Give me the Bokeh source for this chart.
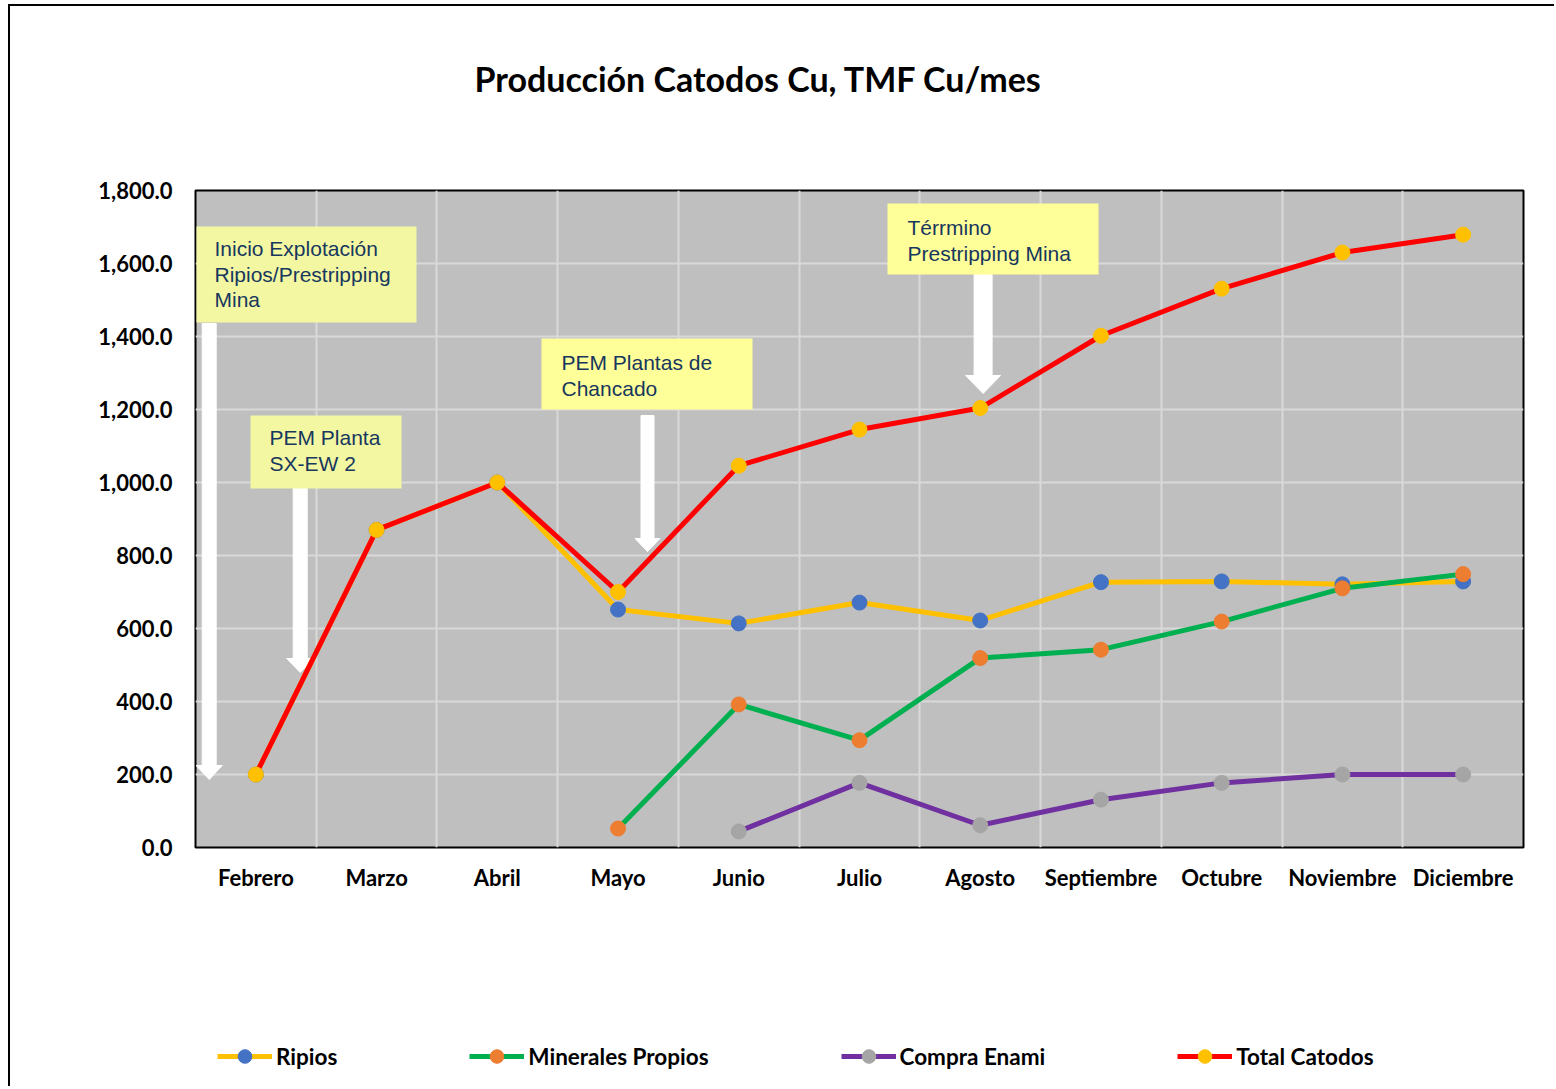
from bokeh.plotting import figure
from bokeh.layouts import column
from bokeh.models import (Range1d, FixedTicker, NumeralTickFormatter, BoxAnnotation,
                          Label, Legend, LegendItem, ColumnDataSource, Title)
from bokeh.embed import file_html
from bokeh.resources import INLINE

# ---------------- data ----------------
months = ["Febrero", "Marzo", "Abril", "Mayo", "Junio", "Julio", "Agosto",
          "Septiembre", "Octubre", "Noviembre", "Diciembre"]
ripios = [200, 870, 1000, 652, 614, 671, 622, 727, 729, 721, 729]
minerales = [None, None, None, 52, 392, 294, 519, 542, 619, 710, 749]
compra = [None, None, None, None, 44, 177, 61, 131, 177, 200, 200]
total = [200, 870, 1000, 700, 1046, 1145, 1204, 1402, 1531, 1630, 1679]
y_ticks = [0, 200, 400, 600, 800, 1000, 1200, 1400, 1600, 1800]
title_text = "Producción Catodos Cu, TMF Cu/mes"
series_names = ["Ripios", "Minerales Propios", "Compra Enami", "Total Catodos"]

notes = [
    ["Inicio Explotación", "Ripios/Prestripping", "Mina"],
    ["PEM Planta", "SX-EW 2"],
    ["PEM Plantas de", "Chancado"],
    ["Térrmino", "Prestripping Mina"],
]

# ---------------- layout helpers (page pixels -> data) ----------------
FL, FR, FT, FB = 195, 1523, 190, 847
XU = (FR - FL) / 11.0
YU = (FB - FT) / 1800.0
OX, OY = 10, 6  # canvas origin on the page (after margin + border)


def px(x):
    return (x - FL) / XU - 0.5


def py(y):
    return (FB - y) / YU


W, H1, H2 = 1544, 1030, 50
p = figure(width=W, height=H1, output_backend="svg", toolbar_location=None,
           title=None,
           x_range=Range1d(-0.5, 10.5), y_range=Range1d(0, 1800),
           min_border_left=FL - OX, min_border_right=OX + W - FR,
           min_border_top=FT - OY, min_border_bottom=OY + H1 - FB)
p.border_fill_color = "white"
p.background_fill_color = "#BFBFBF"
p.outline_line_color = "black"
p.outline_line_width = 2

# grid
p.xgrid.ticker = FixedTicker(ticks=[i + 0.5 for i in range(10)])
p.ygrid.ticker = FixedTicker(ticks=y_ticks)
for g in (p.xgrid, p.ygrid):
    g.grid_line_color = "#D9D9D9"
    g.grid_line_width = 2

# axes
p.xaxis.ticker = FixedTicker(ticks=list(range(len(months))))
p.xaxis.major_label_overrides = {i: m for i, m in enumerate(months)}
p.yaxis.ticker = FixedTicker(ticks=y_ticks)
p.yaxis.formatter = NumeralTickFormatter(format="0,0.0")
for ax in (p.xaxis, p.yaxis):
    ax.axis_line_color = None
    ax.major_tick_line_color = None
    ax.minor_tick_line_color = None
    ax.major_tick_out = 0
    ax.major_tick_in = 0
    ax.minor_tick_out = 0
    ax.minor_tick_in = 0
    ax.major_label_text_font = "Lato"
    ax.major_label_text_font_style = "bold"
    ax.major_label_text_font_size = "22px"
    ax.major_label_text_color = "black"
p.xaxis.major_label_standoff = 16
p.yaxis.major_label_standoff = 23

# ---------------- arrows (white) ----------------
arrow_specs = [  # center x, shaft half width, head half width, top, head start, tip
    (208.7, 7, 13, 323, 765, 779),
    (299.7, 7, 13.5, 488, 658, 672),
    (647, 6.5, 12.5, 415, 538, 551),
    (982.6, 9, 17.5, 274, 375, 393),
]
axs, ays = [], []
for cx, sw, hw, yt, yh, ytp in arrow_specs:
    xs_px = [cx - sw, cx + sw, cx + sw, cx + hw, cx, cx - hw, cx - sw]
    ys_px = [yt, yt, yh, yh, ytp, yh, yh]
    axs.append([px(v) for v in xs_px])
    ays.append([py(v) for v in ys_px])
p.patches(axs, ays, fill_color="white", line_color="white", line_width=1)

# ---------------- series ----------------
colors = [("#FFC000", "#4472C4"), ("#00B050", "#ED7D31"),
          ("#7030A0", "#A5A5A5"), ("#FF0000", "#FFC000")]

# legend strip below the chart (its own small canvas; frame aligned with p)
q = figure(width=W, height=H2, output_backend="svg", toolbar_location=None,
           title=None, x_range=Range1d(-0.5, 10.5), y_range=Range1d(-3, -2),
           x_axis_location=None, y_axis_location=None,
           min_border_left=0, min_border_right=0, min_border_top=0,
           min_border_bottom=0)
q.grid.visible = False
q.outline_line_color = None
q.background_fill_color = "white"
q.border_fill_color = "white"

items = []
for name, vals, (lc, mc) in zip(series_names, [ripios, minerales, compra, total], colors):
    xs = [i for i, v in enumerate(vals) if v is not None]
    ys = [v for v in vals if v is not None]
    src = ColumnDataSource(dict(x=xs, y=ys))
    p.line("x", "y", source=src, line_color=lc, line_width=5)
    p.scatter("x", "y", source=src, size=15, fill_color=mc, line_color=mc)
    lr = q.line("x", "y", source=src, line_color=lc, line_width=5)
    sr = q.scatter("x", "y", source=src, size=15, fill_color=mc, line_color=mc)
    items.append(LegendItem(label=name, renderers=[lr, sr]))

legend = Legend(items=items, orientation="horizontal",
                location=(217 - FL, (OY + H1 + H2) - 1073),
                spacing=132, padding=0, margin=0, border_line_color=None,
                background_fill_alpha=0, glyph_width=55, glyph_height=34,
                label_standoff=4, label_text_font="Lato",
                label_text_font_style="bold", label_text_font_size="22.5px",
                label_text_color="black")
q.add_layout(legend, "center")

# spacer and title (panels stack outward in the order they are added)
p.add_layout(Title(text="\u00a0", text_font_size="2px", standoff=88), "above")
p.add_layout(Title(text=title_text, align="left", offset=474 - FL, standoff=0,
                   text_font="Lato", text_font_style="bold",
                   text_font_size="34px", text_color="black"), "above")

# ---------------- note boxes ----------------
box_specs = [  # left, right, top, bottom, text left, first line y, fill
    (196, 416, 226, 322, 214, 248, "#F3F7A2"),
    (250, 401, 415, 488, 269, 437, "#F3F7A2"),
    (541, 752, 338, 409, 561, 362, "#FFFF99"),
    (887, 1098, 203, 274, 907, 227, "#FFFF99"),
]
for lines, (l, r, t, b, tx, ty, fc) in zip(notes, box_specs):
    p.add_layout(BoxAnnotation(left=px(l), right=px(r), top=py(t), bottom=py(b),
                               fill_color=fc, fill_alpha=1.0, line_color=None))
    for k, line in enumerate(lines):
        p.add_layout(Label(x=px(tx), y=py(ty + k * 25.5), text=line,
                           text_font="Liberation Sans", text_font_size="21px",
                           text_color="#17375E", text_baseline="middle",
                           text_align="left"))

layout = column(p, q, spacing=0)
layout.styles = {"margin-left": "8px", "margin-top": "4px",
                 "border-left": "2px solid #000", "border-top": "2px solid #000"}

open("out.html", "w").write(file_html(layout, INLINE))
